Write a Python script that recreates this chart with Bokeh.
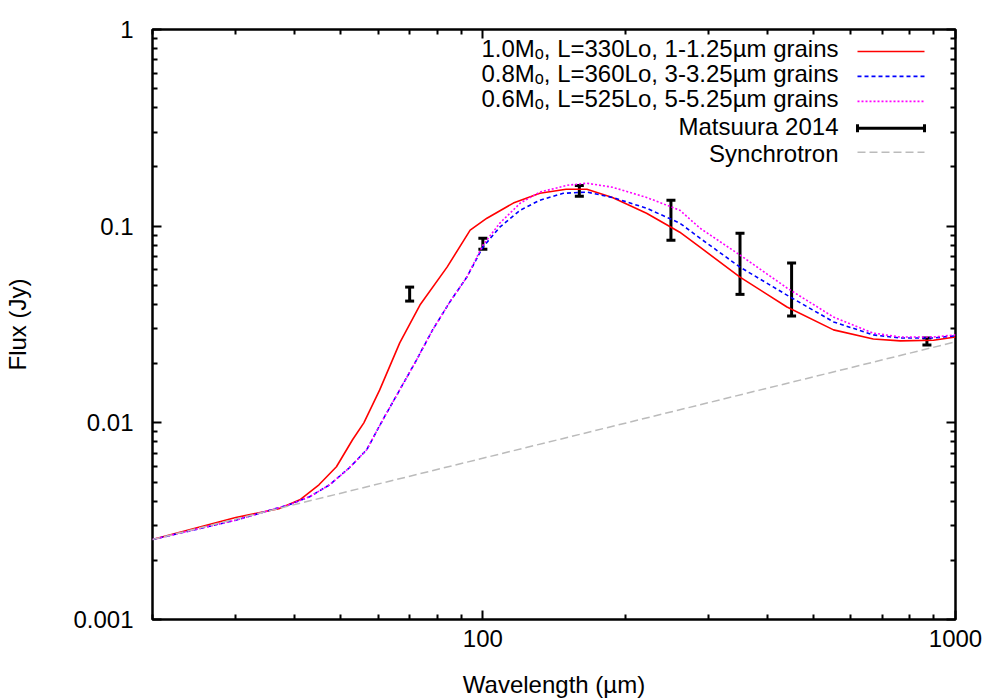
import numpy as np
from bokeh.plotting import figure
from bokeh.models import (ColumnDataSource, Whisker, TeeHead, LogAxis, FixedTicker,
                          CustomJSTickFormatter, Label, Arrow, Range1d)
from bokeh.embed import file_html
from bokeh.resources import INLINE

# ---------------- data ----------------
red_wl = [20, 30, 37, 41, 45, 49, 53, 56, 60.5, 66.7, 73.6, 84, 94, 102, 116, 132, 150, 166,
          188, 222, 261, 288, 350, 440, 552, 670, 764, 898, 1000]
red_flux = [0.00255, 0.0033, 0.00366, 0.00406, 0.00484, 0.00598, 0.0082, 0.0100, 0.0147,
            0.0255, 0.0397, 0.0619, 0.0954, 0.1098, 0.131, 0.147, 0.154, 0.154, 0.140,
            0.1164, 0.0932, 0.0782, 0.0551, 0.0388, 0.0297, 0.0267, 0.0261, 0.0263, 0.0273]

blue_wl = [20, 30, 39, 43, 47.4, 52.2, 56.8, 61.4, 66.7, 72.4, 78.3, 85.1, 92.5, 100, 108.6,
           120, 132, 148, 166, 188, 222, 261, 288, 350, 440, 552, 670, 764, 898, 1000]
blue_flux = [0.00255, 0.0032, 0.00384, 0.00421, 0.00484, 0.00591, 0.0073, 0.01035, 0.0147,
             0.0209, 0.0297, 0.0411, 0.0551, 0.0782, 0.0989, 0.1206, 0.1355, 0.147, 0.149,
             0.140, 0.1234, 0.1036, 0.0869, 0.0619, 0.0446, 0.0326, 0.0280, 0.0270, 0.0270,
             0.0277]

mag_wl = [20, 30, 39, 43, 47.4, 52.2, 56.8, 61.4, 66.7, 72.4, 78.3, 85.1, 92.5, 100, 108.6,
          120, 132, 151, 166, 188, 222, 261, 288, 350, 440, 552, 670, 764, 898, 1000]
mag_flux = [0.00255, 0.0032, 0.00384, 0.00421, 0.00484, 0.00591, 0.0073, 0.01035, 0.0147,
            0.0209, 0.0297, 0.0411, 0.0551, 0.080, 0.1036, 0.131, 0.149, 0.1615, 0.1653,
            0.1578, 0.140, 0.1206, 0.0977, 0.0713, 0.0485, 0.0345, 0.0286, 0.0273, 0.0273,
            0.028]

syn_wl = [20, 1000]
syn_flux = [0.00255, 0.0258]

obs_wl = [70, 100, 160, 250, 350, 450, 870]
obs_flux = [0.045, 0.082, 0.152, 0.11, 0.068, 0.048, 0.026]
obs_lo = [0.0416, 0.0764, 0.142, 0.0849, 0.045, 0.0349, 0.0249]
obs_hi = [0.049, 0.0869, 0.161, 0.1355, 0.092, 0.0649, 0.027]

x_major = [100, 1000]
x_minor = [20, 30, 40, 50, 60, 70, 80, 90, 200, 300, 400, 500, 600, 700, 800, 900]
y_major = [0.001, 0.01, 0.1, 1]
y_minor = [m * d for d in (0.001, 0.01, 0.1) for m in range(2, 10)]

labels = ["1.0M\u2092, L=330Lo, 1-1.25\u00b5m grains",
          "0.8M\u2092, L=360Lo, 3-3.25\u00b5m grains",
          "0.6M\u2092, L=525Lo, 5-5.25\u00b5m grains",
          "Matsuura 2014",
          "Synchrotron"]

X0, X1 = 20, 1000
Y0, Y1 = 0.001, 1
FW, FH = 803, 591
FONT = "Liberation Sans"
FS = "24px"

p = figure(width=1000, height=700, x_axis_type="log", y_axis_type="log",
           x_range=Range1d(X0, X1), y_range=Range1d(Y0, Y1),
           output_backend="svg", toolbar_location=None,
           min_border_left=152, min_border_right=45,
           min_border_top=29, min_border_bottom=80)
p.grid.visible = False
p.outline_line_color = "black"
p.outline_line_width = 2.5
p.background_fill_color = "white"
p.border_fill_color = "white"

fmt = CustomJSTickFormatter(code="return String(parseFloat(tick.toPrecision(4)));")
blank = CustomJSTickFormatter(code="return '';")


def style_axis(ax, show_labels):
    ax.axis_line_color = None
    ax.major_tick_in = 9
    ax.major_tick_out = 0
    ax.minor_tick_in = 5
    ax.minor_tick_out = 0
    ax.major_tick_line_width = 2
    ax.minor_tick_line_width = 2
    ax.major_tick_line_color = "black"
    ax.minor_tick_line_color = "black"
    ax.major_label_text_font = FONT
    ax.major_label_text_color = "black"
    ax.major_label_text_font_size = FS
    if show_labels:
        ax.formatter = fmt
    else:
        ax.formatter = blank
        ax.major_label_standoff = 0


xt = FixedTicker(ticks=x_major, minor_ticks=x_minor)
yt = FixedTicker(ticks=y_major, minor_ticks=y_minor)

xa = p.xaxis[0]
ya = p.yaxis[0]
xa.ticker = xt
ya.ticker = yt
style_axis(xa, True)
style_axis(ya, True)
xa.major_label_standoff = 10
ya.major_label_standoff = 19
xa.axis_label = "Wavelength (\u00b5m)"
ya.axis_label = "Flux (Jy)"
for ax in (xa, ya):
    ax.axis_label_text_font = FONT
    ax.axis_label_text_font_size = FS
    ax.axis_label_text_font_style = "normal"
    ax.axis_label_text_color = "black"
xa.axis_label_standoff = 21
ya.axis_label_standoff = 39

top = LogAxis(ticker=FixedTicker(ticks=x_major, minor_ticks=x_minor))
right = LogAxis(ticker=FixedTicker(ticks=y_major, minor_ticks=y_minor))
style_axis(top, False)
style_axis(right, False)
p.add_layout(top, "above")
p.add_layout(right, "right")

# curves
p.line(red_wl, red_flux, line_color="#ff0000", line_width=1.6)
p.line(blue_wl, blue_flux, line_color="#0000ff", line_width=1.6, line_dash="4 3")
p.line(mag_wl, mag_flux, line_color="#ff00ff", line_width=1.6, line_dash="2 2")

src = ColumnDataSource(dict(x=obs_wl, y=obs_flux, lo=obs_lo, hi=obs_hi))
p.add_layout(Whisker(source=src, base="x", lower="lo", upper="hi",
                     line_color="black", line_width=3,
                     upper_head=TeeHead(size=9, line_width=3, line_color="black"),
                     lower_head=TeeHead(size=9, line_width=3, line_color="black")))

p.line(syn_wl, syn_flux, line_color="#bbbbbb", line_width=1.5, line_dash="8 4")


# ---------------- legend (text right-aligned, sample on the right) ----------------
def fx(px):
    return 10 ** (np.log10(X0) + px / FW * (np.log10(X1) - np.log10(X0)))


def fy(py):
    return 10 ** (np.log10(Y1) - py / FH * (np.log10(Y1) - np.log10(Y0)))


text_right = 686
samp_l, samp_r = 705, 772
row_line = [22, 47, 72, 99, 123]
row_mid = [19.5, 44.5, 69.5, 97.5, 124.5]
styles = [dict(line_color="#ff0000", line_width=1.6),
          dict(line_color="#0000ff", line_width=1.6, line_dash="4 3"),
          dict(line_color="#ff00ff", line_width=1.6, line_dash="2 2"),
          dict(line_color="black", line_width=3),
          dict(line_color="#bbbbbb", line_width=1.5, line_dash="8 4")]

for i, lab in enumerate(labels):
    p.add_layout(Label(x=fx(text_right), y=fy(row_mid[i]), text=lab,
                       text_align="right", text_baseline="middle",
                       text_font=FONT, text_font_size=FS, text_color="black"))
    kw = dict(x_start=fx(samp_l), y_start=fy(row_line[i]),
              x_end=fx(samp_r), y_end=fy(row_line[i]), **styles[i])
    if i == 3:
        kw["start"] = TeeHead(size=8, line_width=3, line_color="black")
        kw["end"] = TeeHead(size=8, line_width=3, line_color="black")
    else:
        kw["start"] = None
        kw["end"] = None
    p.add_layout(Arrow(**kw))

open("out.html", "w").write(file_html(p, INLINE))
